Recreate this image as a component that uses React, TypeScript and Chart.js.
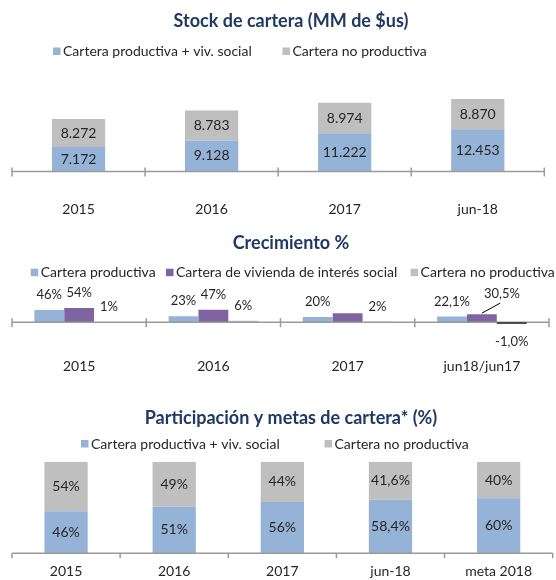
import React, { useEffect, useRef } from 'react';
import { Chart, registerables } from 'chart.js';

Chart.register(...registerables);

// ---------- Data ----------
// Chart 1: Stock de cartera
const stockTitle = 'Stock de cartera (MM de $us)';
const stockCategories = ['2015', '2016', '2017', 'jun-18'];
const stockSeriesNames = ['Cartera productiva + viv. social', 'Cartera no productiva'];
const stockProductiva = [7172, 9128, 11222, 12453];
const stockNoProductiva = [8272, 8783, 8974, 8870];

// Chart 2: Crecimiento %
const growthTitle = 'Crecimiento %';
const growthCategories = ['2015', '2016', '2017', 'jun18/jun17'];
const growthSeriesNames = ['Cartera productiva', 'Cartera de vivienda de interés social', 'Cartera no productiva'];
const growthProductiva = [46, 23, 20, 22.1];
const growthVivienda = [54, 47, 34, 30.5];
const growthNoProductiva = [1, 6, 2, -1.0];
const growthDecimals = [0, 0, 0, 1];

// Chart 3: Participación y metas de cartera
const shareTitle = 'Participación y metas de cartera* (%)';
const shareCategories = ['2015', '2016', '2017', 'jun-18', 'meta 2018'];
const shareSeriesNames = ['Cartera productiva + viv. social', 'Cartera no productiva'];
const shareProductiva = [46, 51, 56, 58.4, 60];
const shareNoProductiva = [54, 49, 44, 41.6, 40];
const shareDecimals = [0, 0, 0, 1, 0];

// ---------- Styles ----------
const FONT = 'Lato, "Noto Sans", sans-serif';
const TITLE_COLOR = '#1F3864';
const TEXT_COLOR = '#262626';
const AXIS_COLOR = '#9A9A9A';
const BLUE = '#95B3D7';
const GRAY = '#BFBFBF';
const PURPLE = '#8064A2';

const fmtThousands = (v: number) => String(Math.round(v)).replace(/\B(?=(\d{3})+(?!\d))/g, '.');
const fmtPct = (v: number, d: number) => v.toFixed(d).replace('.', ',') + '%';

type LegendItem = { text: string; color: string; x: number };
type Override = { hide?: boolean; dx?: number; dy?: number; leader?: [number, number, number, number] };
type OverlayCfg = {
  title: string;
  titleX: number;
  titleY: number;
  legendY: number;
  legend: LegendItem[];
  tickUp: number;
  tickDown: number;
  labelMode: 'center' | 'outside';
  labelFont: number;
  format: (v: number, i: number) => string;
  overrides?: Record<string, Override>;
  outlineNegative?: boolean;
};

function makeOverlay(cfg: OverlayCfg) {
  return {
    id: 'overlay',
    afterDatasetsDraw(chart: any) {
      const ctx: CanvasRenderingContext2D = chart.ctx;
      const ys = chart.scales.y;
      const area = chart.chartArea;
      const zero = ys.getPixelForValue(0);
      ctx.save();

      // axis line with category ticks
      ctx.strokeStyle = AXIS_COLOR;
      ctx.lineWidth = 1.5;
      ctx.beginPath();
      ctx.moveTo(area.left, zero);
      ctx.lineTo(area.right, zero);
      const n = chart.data.labels.length;
      for (let i = 0; i <= n; i++) {
        const px = area.left + (i * (area.right - area.left)) / n;
        ctx.moveTo(px, zero - cfg.tickUp);
        ctx.lineTo(px, zero + cfg.tickDown);
      }
      ctx.stroke();

      // data labels
      ctx.font = `${cfg.labelFont}px ${FONT}`;
      ctx.textAlign = 'center';
      ctx.textBaseline = 'middle';
      chart.data.datasets.forEach((ds: any, di: number) => {
        const meta = chart.getDatasetMeta(di);
        meta.data.forEach((el: any, i: number) => {
          const v = ds.data[i] as number;
          const o: Override = (cfg.overrides && cfg.overrides[`${di}-${i}`]) || {};
          if (cfg.outlineNegative && v < 0) {
            const w = el.width;
            ctx.strokeStyle = '#262626';
            ctx.lineWidth = 1.5;
            ctx.beginPath();
            ctx.moveTo(el.x - w / 2, el.y + 0.5);
            ctx.lineTo(el.x + w / 2, el.y + 0.5);
            ctx.stroke();
          }
          if (o.hide) return;
          let ly: number;
          if (cfg.labelMode === 'center') ly = (el.y + el.base) / 2;
          else ly = v >= 0 ? el.y - 15 : el.y + 19;
          if (o.leader) {
            const l = o.leader;
            ctx.strokeStyle = '#000000';
            ctx.lineWidth = 1;
            ctx.beginPath();
            ctx.moveTo(el.x + l[0], el.y + l[1]);
            ctx.lineTo(el.x + l[2], el.y + l[3]);
            ctx.stroke();
          }
          ctx.fillStyle = TEXT_COLOR;
          ctx.fillText(cfg.format(v, i), el.x + (o.dx || 0), ly + (o.dy || 0));
        });
      });

      // title
      ctx.font = `bold 18px ${FONT}`;
      ctx.fillStyle = TITLE_COLOR;
      ctx.textAlign = 'center';
      ctx.fillText(cfg.title, cfg.titleX, cfg.titleY);

      // legend
      ctx.font = `14px ${FONT}`;
      ctx.textAlign = 'left';
      cfg.legend.forEach((it) => {
        ctx.fillStyle = it.color;
        ctx.fillRect(it.x, cfg.legendY - 4, 7.5, 7.5);
        ctx.fillStyle = TEXT_COLOR;
        ctx.fillText(it.text, it.x + 10, cfg.legendY);
      });
      ctx.restore();
    },
  };
}

const xAxis = (padding: number, stacked: boolean, height: number) => ({
  stacked,
  grid: { display: false, drawTicks: false },
  border: { display: false },
  ticks: { padding, color: TEXT_COLOR, font: { family: FONT, size: 14 } },
  afterFit: (scale: any) => {
    scale.height = height;
  },
});

function buildStock(): any {
  return {
    type: 'bar',
    data: {
      labels: stockCategories,
      datasets: [
        { label: stockSeriesNames[0], data: stockProductiva, backgroundColor: BLUE, stack: 's' },
        { label: stockSeriesNames[1], data: stockNoProductiva, backgroundColor: GRAY, stack: 's' },
      ],
    },
    options: {
      animation: false,
      responsive: false,
      layout: { padding: { left: 12, right: 11.7, top: 69.5, bottom: 0 } },
      datasets: { bar: { categoryPercentage: 1, barPercentage: 0.4 } },
      scales: {
        x: xAxis(30, true, 53.5),
        y: { stacked: true, display: false, min: 0, max: 30000 },
      },
      plugins: { legend: { display: false }, tooltip: { enabled: false } },
    },
    plugins: [
      makeOverlay({
        title: stockTitle,
        titleX: 291,
        titleY: 21,
        legendY: 51.5,
        legend: [
          { text: stockSeriesNames[0], color: BLUE, x: 53 },
          { text: stockSeriesNames[1], color: GRAY, x: 282.5 },
        ],
        tickUp: 4,
        tickDown: 5,
        labelMode: 'center',
        labelFont: 14,
        format: (v) => fmtThousands(v),
      }),
    ],
  };
}

function buildGrowth(): any {
  return {
    type: 'bar',
    data: {
      labels: growthCategories,
      datasets: [
        { label: growthSeriesNames[0], data: growthProductiva, backgroundColor: BLUE },
        { label: growthSeriesNames[1], data: growthVivienda, backgroundColor: PURPLE },
        { label: growthSeriesNames[2], data: growthNoProductiva, backgroundColor: GRAY },
      ],
    },
    options: {
      animation: false,
      responsive: false,
      layout: { padding: { left: 12, right: 7, top: 57.25, bottom: 0 } },
      datasets: { bar: { categoryPercentage: 0.667, barPercentage: 1 } },
      scales: {
        x: xAxis(28, false, 54.7),
        y: { display: false, min: -30, max: 150 },
      },
      plugins: { legend: { display: false }, tooltip: { enabled: false } },
    },
    plugins: [
      makeOverlay({
        title: growthTitle,
        titleX: 291,
        titleY: 18.5,
        legendY: 47.7,
        legend: [
          { text: growthSeriesNames[0], color: BLUE, x: 30.7 },
          { text: growthSeriesNames[1], color: PURPLE, x: 166 },
          { text: growthSeriesNames[2], color: GRAY, x: 410.6 },
        ],
        tickUp: 4,
        tickDown: 5,
        labelMode: 'outside',
        labelFont: 13,
        format: (v, i) => fmtPct(v, growthDecimals[i]),
        overrides: {
          '1-2': { hide: true },
          '1-3': { dx: 20, dy: -5.5, leader: [0, -1, 18.3, -11] },
        },
        outlineNegative: true,
      }),
    ],
  };
}

function buildShare(): any {
  return {
    type: 'bar',
    data: {
      labels: shareCategories,
      datasets: [
        { label: shareSeriesNames[0], data: shareProductiva, backgroundColor: BLUE, stack: 's' },
        { label: shareSeriesNames[1], data: shareNoProductiva, backgroundColor: GRAY, stack: 's' },
      ],
    },
    options: {
      animation: false,
      responsive: false,
      layout: { padding: { left: 12, right: 3.3, top: 76.7, bottom: 0 } },
      datasets: { bar: { categoryPercentage: 1, barPercentage: 0.4 } },
      scales: {
        x: xAxis(10, true, 26.7),
        y: { stacked: true, display: false, min: 0, max: 100 },
      },
      plugins: { legend: { display: false }, tooltip: { enabled: false } },
    },
    plugins: [
      makeOverlay({
        title: shareTitle,
        titleX: 291,
        titleY: 33.3,
        legendY: 59,
        legend: [
          { text: shareSeriesNames[0], color: BLUE, x: 81 },
          { text: shareSeriesNames[1], color: GRAY, x: 324.5 },
        ],
        tickUp: 0,
        tickDown: 5,
        labelMode: 'center',
        labelFont: 14,
        format: (v, i) => fmtPct(v, shareDecimals[i]),
      }),
    ],
  };
}

function BarChart({ height, build }: { height: number; build: () => any }) {
  const ref = useRef<HTMLCanvasElement>(null);
  useEffect(() => {
    const chart = new Chart(ref.current as HTMLCanvasElement, build());
    return () => chart.destroy();
  }, [build]);
  return <canvas ref={ref} width={556} height={height} style={{ display: 'block', width: 556, height }} />;
}

export default function App() {
  return (
    <div style={{ position: 'absolute', left: 0, top: 0, width: 556, height: 580, background: '#ffffff' }}>
      <BarChart height={225} build={buildStock} />
      <BarChart height={160} build={buildGrowth} />
      <BarChart height={195} build={buildShare} />
    </div>
  );
}
